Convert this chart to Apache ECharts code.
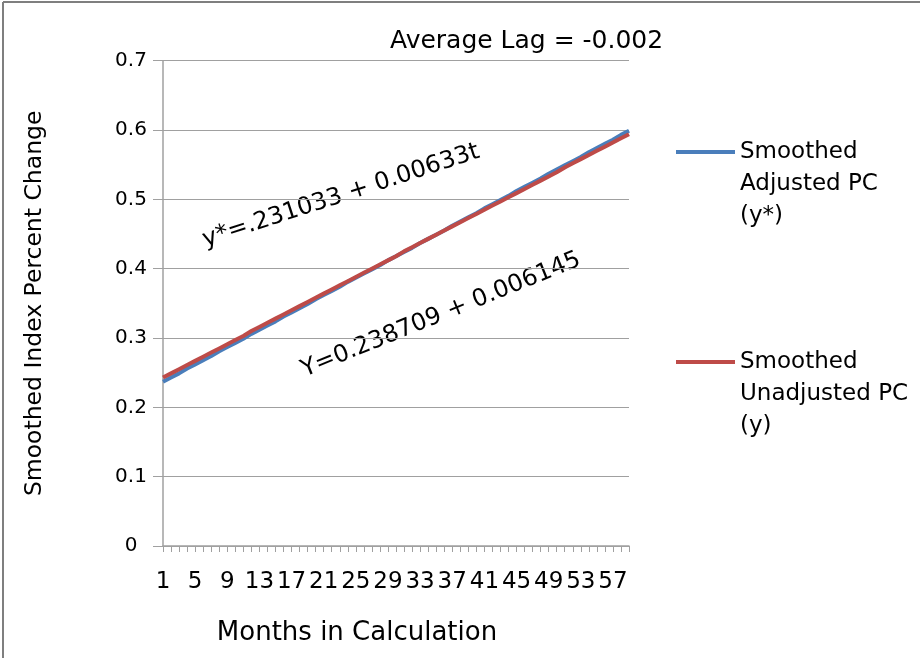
<!DOCTYPE html>
<html><head><meta charset="utf-8">
<script src="https://cdn.jsdelivr.net/npm/echarts@6/dist/echarts.min.js"></script>
<style>html,body{margin:0;padding:0;background:#fff}#c{width:920px;height:658px}</style>
</head><body><div id="c"></div>
<script>
var months = [];
for (var i = 1; i <= 59; i++) months.push(String(i));
var adjusted = [0.237,0.243,0.249,0.256,0.262,0.268,0.274,0.281,0.287,0.293,0.299,0.306,0.312,0.318,0.324,0.331,0.337,0.343,0.349,0.356,0.362,0.368,0.374,0.381,0.387,0.393,0.399,0.405,0.412,0.418,0.424,0.430,0.437,0.443,0.449,0.455,0.462,0.468,0.474,0.480,0.487,0.493,0.499,0.505,0.512,0.518,0.524,0.530,0.537,0.543,0.549,0.555,0.561,0.568,0.574,0.580,0.586,0.593,0.599];
var unadjusted = [0.243,0.249,0.255,0.261,0.267,0.273,0.279,0.285,0.291,0.297,0.303,0.310,0.316,0.322,0.328,0.334,0.340,0.346,0.352,0.358,0.364,0.370,0.376,0.382,0.388,0.394,0.400,0.406,0.412,0.418,0.425,0.431,0.437,0.443,0.449,0.455,0.461,0.467,0.473,0.479,0.485,0.491,0.497,0.503,0.509,0.515,0.521,0.527,0.533,0.539,0.546,0.552,0.558,0.564,0.570,0.576,0.582,0.588,0.594];
var seriesNames = ['Smoothed\nAdjusted PC\n(y*)', 'Smoothed\nUnadjusted PC\n(y)'];
var titleText = 'Average Lag = -0.002';
var eq1 = 'y*=.231033 + 0.00633t';
var eq2 = 'Y=0.238709 + 0.006145';
var FONT = 'DejaVu Sans';
var chart = echarts.init(document.getElementById('c'));
chart.setOption({
  animation: false,
  backgroundColor: '#fff',
  title: { text: titleText, left: 385, top: 24, textStyle: { fontFamily: FONT, fontSize: 25, fontWeight: 'normal', color: '#000' } },
  grid: { left: 163, right: 291, top: 60.7, bottom: 112 },
  legend: {
    orient: 'vertical', left: 676, top: 72, padding: 0, itemWidth: 59, itemHeight: 4, itemGap: 50,
    icon: 'rect',
    formatter: function (name) { return '\n\n' + name; },
    textStyle: { fontFamily: FONT, fontSize: 23, color: '#000', lineHeight: 32 },
    data: seriesNames
  },
  xAxis: {
    type: 'category', data: months, boundaryGap: false,
    name: 'Months in Calculation', nameLocation: 'middle', nameGap: 74,
    nameTextStyle: { fontFamily: FONT, fontSize: 26, color: '#000', padding: [0, 78, 0, 0] },
    axisLine: { lineStyle: { color: '#a0a0a0', width: 1.5 } },
    axisTick: { interval: 0, length: 6, lineStyle: { color: '#a0a0a0' } },
    axisLabel: { interval: 3, fontFamily: FONT, fontSize: 23, color: '#000', margin: 25 }
  },
  yAxis: {
    type: 'value', min: 0, max: 0.7, interval: 0.1,
    name: 'Smoothed Index Percent Change', nameLocation: 'middle', nameGap: 116,
    nameTextStyle: { fontFamily: FONT, fontSize: 23.5, color: '#000' },
    axisLine: { show: true, lineStyle: { color: '#a0a0a0', width: 1.5 } },
    axisTick: { show: true, length: 10, lineStyle: { color: '#a0a0a0' } },
    splitLine: { lineStyle: { color: '#a0a0a0', width: 1.2 } },
    axisLabel: { fontFamily: FONT, fontSize: 20, color: '#000', margin: 32, align: 'center',
      formatter: function (v) { return v === 0 ? '0' : String(+v.toFixed(1)); } }
  },
  series: [
    { name: seriesNames[0], type: 'line', data: adjusted, showSymbol: false, symbol: 'none',
      lineStyle: { color: '#4a7ebb', width: 4 }, itemStyle: { color: '#4a7ebb' } },
    { name: seriesNames[1], type: 'line', data: unadjusted, showSymbol: false, symbol: 'none',
      lineStyle: { color: '#be4b48', width: 4 }, itemStyle: { color: '#be4b48' } }
  ],
  graphic: [
    { type: 'line', shape: { x1: 3, y1: 2, x2: 920, y2: 2 }, style: { stroke: '#7f7f7f', lineWidth: 2 } },
    { type: 'line', shape: { x1: 3, y1: 2, x2: 3, y2: 658 }, style: { stroke: '#7f7f7f', lineWidth: 2 } },
    { type: 'text', x: 341, y: 196, rotation: 18 * Math.PI / 180,
      style: { text: eq1, fontFamily: FONT, fontSize: 24, fill: '#000', textAlign: 'center', textVerticalAlign: 'middle' } },
    { type: 'text', x: 441, y: 315, rotation: 22 * Math.PI / 180,
      style: { text: eq2, fontFamily: FONT, fontSize: 24, fill: '#000', textAlign: 'center', textVerticalAlign: 'middle' } }
  ]
});
</script></body></html>
